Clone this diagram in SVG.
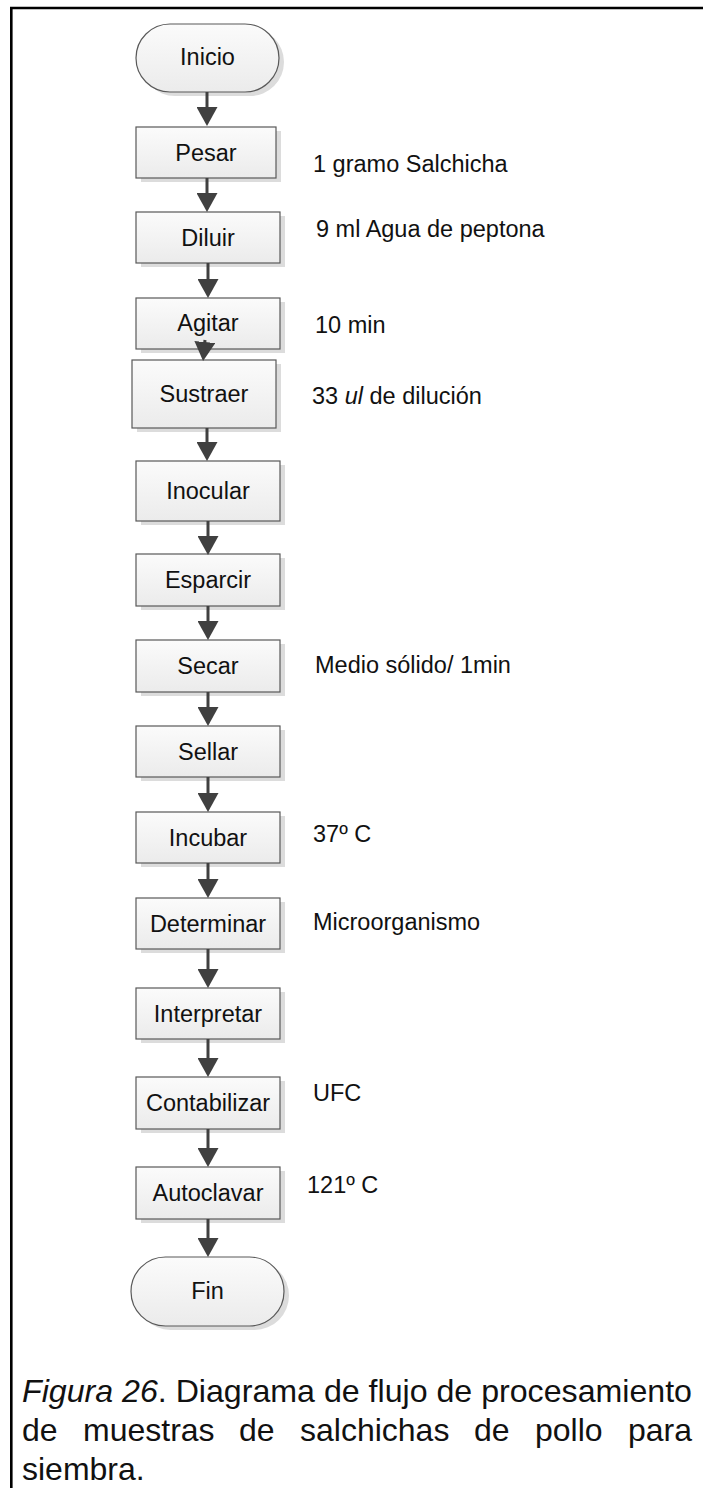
<svg xmlns="http://www.w3.org/2000/svg" width="703" height="1488" viewBox="0 0 703 1488">
<style>
.box{fill:url(#g);stroke:#595959;stroke-width:1.2}
.sh{fill:#dcdcdc}
.lbl{font-family:"Liberation Sans",Arial,sans-serif;font-size:23.5px;fill:#111;text-anchor:middle}
.note{font-family:"Liberation Sans",Arial,sans-serif;font-size:23.5px;fill:#111}
.cap{font-family:"Liberation Sans",Arial,sans-serif;font-size:32px;fill:#111}
.conn line{stroke:#404040;stroke-width:3;marker-end:url(#ah)}
</style>
<defs>
<linearGradient id="g" x1="0" y1="0" x2="0" y2="1">
<stop offset="0" stop-color="#fbfbfb"/>
<stop offset="1" stop-color="#ebebeb"/>
</linearGradient>
<marker id="ah" viewBox="0 0 19 21" refX="9" refY="10.5" markerWidth="19" markerHeight="21" markerUnits="userSpaceOnUse" orient="auto">
<path d="M0,0 L19,10.5 L0,21 Z" fill="#404040"/>
</marker>
</defs>
<rect width="703" height="1488" fill="#fff"/>
<path d="M11.3,1492 V8 H706" fill="none" stroke="#000" stroke-width="2.6"/>

<g id="n-inicio"><rect class="sh" x="141" y="28" width="143" height="68" rx="34"/><rect class="box" x="136" y="24" width="143" height="68" rx="34"/><text class="lbl" x="207.5" y="65">Inicio</text></g>
<g id="n-pesar"><rect class="sh" x="141" y="131" width="140" height="51"/><rect class="box" x="136" y="127" width="140" height="51"/><text class="lbl" x="206" y="161">Pesar</text></g>
<g id="n-diluir"><rect class="sh" x="141" y="216" width="144" height="51"/><rect class="box" x="136" y="212" width="144" height="51"/><text class="lbl" x="208" y="246">Diluir</text></g>
<g id="n-agitar"><rect class="sh" x="141" y="302" width="144" height="51"/><rect class="box" x="136" y="298" width="144" height="51"/><text class="lbl" x="208" y="331">Agitar</text></g>
<g id="n-sustraer"><rect class="sh" x="137" y="364" width="144" height="68"/><rect class="box" x="132" y="360" width="144" height="68"/><text class="lbl" x="204" y="402">Sustraer</text></g>
<g id="n-inocular"><rect class="sh" x="141" y="465" width="144" height="60"/><rect class="box" x="136" y="461" width="144" height="60"/><text class="lbl" x="208" y="499">Inocular</text></g>
<g id="n-esparcir"><rect class="sh" x="141" y="558" width="144" height="52"/><rect class="box" x="136" y="554" width="144" height="52"/><text class="lbl" x="208" y="588">Esparcir</text></g>
<g id="n-secar"><rect class="sh" x="141" y="644" width="144" height="52"/><rect class="box" x="136" y="640" width="144" height="52"/><text class="lbl" x="208" y="674">Secar</text></g>
<g id="n-sellar"><rect class="sh" x="141" y="730" width="144" height="51"/><rect class="box" x="136" y="726" width="144" height="51"/><text class="lbl" x="208" y="760">Sellar</text></g>
<g id="n-incubar"><rect class="sh" x="141" y="816" width="144" height="51"/><rect class="box" x="136" y="812" width="144" height="51"/><text class="lbl" x="208" y="846">Incubar</text></g>
<g id="n-determinar"><rect class="sh" x="141" y="902" width="144" height="51"/><rect class="box" x="136" y="898" width="144" height="51"/><text class="lbl" x="208" y="932">Determinar</text></g>
<g id="n-interpretar"><rect class="sh" x="141" y="992" width="144" height="51"/><rect class="box" x="136" y="988" width="144" height="51"/><text class="lbl" x="208" y="1022">Interpretar</text></g>
<g id="n-contabilizar"><rect class="sh" x="141" y="1081" width="144" height="52"/><rect class="box" x="136" y="1077" width="144" height="52"/><text class="lbl" x="208" y="1111">Contabilizar</text></g>
<g id="n-autoclavar"><rect class="sh" x="141" y="1171" width="144" height="52"/><rect class="box" x="136" y="1167" width="144" height="52"/><text class="lbl" x="208" y="1201">Autoclavar</text></g>
<g id="n-fin"><rect class="sh" x="136" y="1261" width="153" height="69" rx="34.5"/><rect class="box" x="131" y="1257" width="153" height="69" rx="34.5"/><text class="lbl" x="207.5" y="1299">Fin</text></g>

<g id="connectors" class="conn">
<line x1="207" y1="92" x2="207" y2="116"/>
<line x1="207" y1="178" x2="207" y2="202"/>
<line x1="208" y1="263" x2="208" y2="288"/>
<line x1="205" y1="340" x2="204" y2="351"/>
<line x1="207" y1="428" x2="207" y2="451"/>
<line x1="208" y1="521" x2="208" y2="545"/>
<line x1="208" y1="606" x2="208" y2="630"/>
<line x1="208" y1="692" x2="208" y2="716"/>
<line x1="208" y1="777" x2="208" y2="802"/>
<line x1="208" y1="863" x2="208" y2="888"/>
<line x1="208" y1="949" x2="208" y2="978"/>
<line x1="208" y1="1039" x2="208" y2="1067"/>
<line x1="208" y1="1129" x2="208" y2="1157"/>
<line x1="208" y1="1219" x2="208" y2="1247"/>
</g>

<g id="notes">
<text class="note" x="313" y="172">1 gramo Salchicha</text>
<text class="note" x="316" y="237">9 ml Agua de peptona</text>
<text class="note" x="315" y="333">10 min</text>
<text class="note" x="312" y="404">33 <tspan font-style="italic">ul</tspan> de dilución</text>
<text class="note" x="315" y="673">Medio sólido/ 1min</text>
<text class="note" x="313" y="842">37º C</text>
<text class="note" x="313" y="930">Microorganismo</text>
<text class="note" x="313" y="1101">UFC</text>
<text class="note" x="307" y="1193">121º C</text>
</g>

<g id="caption">
<text class="cap" x="22" y="1402" textLength="670" lengthAdjust="spacingAndGlyphs"><tspan font-style="italic">Figura 26</tspan>. Diagrama de flujo de procesamiento</text>
<text class="cap" y="1441"><tspan x="22">de</tspan><tspan x="83">muestras</tspan><tspan x="239">de</tspan><tspan x="300">salchichas</tspan><tspan x="474">de</tspan><tspan x="535">pollo</tspan><tspan x="628">para</tspan></text>
<text class="cap" x="22" y="1480">siembra.</text>
</g>
</svg>
